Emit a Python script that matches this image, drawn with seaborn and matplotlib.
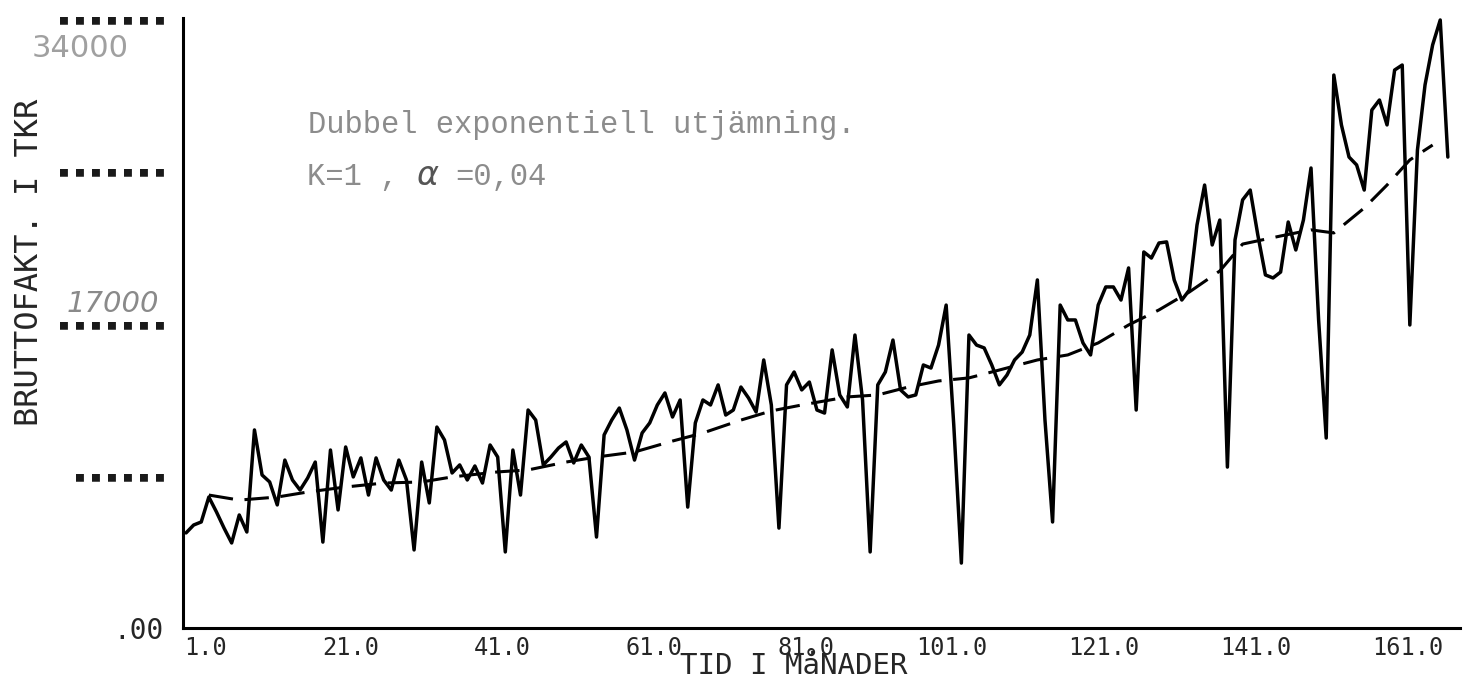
import numpy as np
import pandas as pd
import matplotlib
matplotlib.use("Agg")
import matplotlib.pyplot as plt
import seaborn as sns
from matplotlib.transforms import ScaledTranslation

# monthly gross invoicing (kr)
months = list(range(1, 168))
brutto = [5300, 5740, 5910, 7300, 6470, 5570, 4740, 6300, 5350, 11040,
          8530, 8140, 6860, 9360, 8250, 7690, 8360, 9250, 4790, 9920,
          6580, 10090, 8420, 9480, 7410, 9480, 8250, 7690, 9360, 8250,
          4350, 9250, 6970, 11200, 10480, 8640, 9090, 8250, 9030, 8080,
          10200, 9530, 4240, 9920, 7410, 12150, 11590, 9090, 9530, 10030,
          10370, 9200, 10200, 9530, 5070, 10760, 11590, 12260, 11040, 9360,
          10870, 11430, 12430, 13100, 11760, 12710, 6740, 11430, 12710, 12430,
          13550, 11870, 12150, 13430, 12820, 12040, 14940, 12430, 5570, 13550,
          14270, 13270, 13710, 12150, 11980, 15500, 12990, 12320, 16330, 12710,
          4240, 13550, 14270, 16050, 13270, 12880, 12990, 14660, 14490, 15770,
          18000, 11320, 3620, 16330, 15770, 15610, 14660, 13550, 14100, 14940,
          15380, 16330, 19400, 11590, 5910, 18000, 17170, 17170, 15890, 15220,
          18000, 19010, 19010, 18280, 20070, 12150, 20960, 20620, 21460, 21520,
          19400, 18280, 18840, 22460, 24690, 21350, 22740, 8970, 21630, 23860,
          24410, 21910, 19680, 19510, 19840, 22630, 21070, 22740, 25640, 17170,
          10590, 30820, 28040, 26250, 25810, 24410, 28870, 29430, 28040, 31100,
          31380, 16890, 26640, 30270, 32500, 33890, 26250]

# double exponential smoothing (dashed)
trend_months = [4, 8, 13, 17, 22, 27, 32, 36, 42, 46, 51, 55, 60, 65, 69, 74,
                78, 82, 88, 92, 96, 100, 104, 108, 113, 117, 121, 125, 129,
                133, 137, 140, 145, 149, 152, 156, 159, 162, 165]
trend = [7410, 7130, 7300, 7580, 7860, 8080, 8140, 8420, 8700, 8810, 9250,
         9530, 9810, 10420, 10870, 11590, 12100, 12430, 12880, 12990, 13430,
         13770, 13940, 14380, 14940, 15220, 15890, 16890, 17730, 18730, 19900,
         21400, 21850, 22190, 22020, 23410, 24690, 26090, 26920]

x_ticks = [1, 21, 41, 61, 81, 101, 121, 141, 161]
x_tick_labels = ["1.0", "21.0", "41.0", "61.0", "81.0", "101.0", "121.0", "141.0", "161.0"]
y_ticks = [0, 8500, 17000, 25500, 34000]
y_tick_labels = [".00", "■ ■ ■ ■ ■ ■", "■ ■ ■ ■ ■ ■ ■", "■ ■ ■ ■ ■ ■ ■", "■ ■ ■ ■ ■ ■ ■"]

sns.set_style("white")
plt.rcParams["font.family"] = ["DejaVu Sans Mono", "DejaVu Sans"]

W, H = 1466, 682
fig = plt.figure(figsize=(W / 100, H / 100), dpi=100)
ax = fig.add_axes([183 / W, 54 / H, 1277 / W, 610 / H])

df = pd.DataFrame({"Manad": months, "Brutto": brutto})
df_trend = pd.DataFrame({"Manad": trend_months, "Trend": trend})

sns.lineplot(data=df, x="Manad", y="Brutto", color="black", linewidth=2.5, ax=ax)
sns.lineplot(data=df_trend, x="Manad", y="Trend", color="black", linewidth=2.2, ax=ax)
ax.lines[-1].set_dashes([8, 3.8])

ax.set_xlim(0.6, 168.6)
ax.set_ylim(0, 34000)
ax.set_xlabel("")
ax.set_ylabel("")

for s in ["top", "right"]:
    ax.spines[s].set_visible(False)
for s in ["left", "bottom"]:
    ax.spines[s].set_linewidth(2.2)
    ax.spines[s].set_color("black")

ax.set_xticks(x_ticks, x_tick_labels)
ax.set_yticks(y_ticks, y_tick_labels)
ax.tick_params(axis="x", direction="out", length=6, width=1.8, pad=0, labelsize=17)
ax.tick_params(axis="y", direction="out", length=8, width=1.8, pad=6, labelsize=20)

# plotter puts the units digit at the tick
for lab in ax.get_xticklabels():
    txt = lab.get_text()
    n_int = len(txt.split(".")[0])
    lab.set_horizontalalignment("left")
    dx = -((n_int - 1) * 14.2 + 2) / 100
    lab.set_transform(lab.get_transform() + ScaledTranslation(dx, 0, fig.dpi_scale_trans))

# the asterisk rows are smaller than the ".00"
for lab in ax.get_yticklabels()[1:]:
    lab.set_fontsize(9.5)
    lab.set_color("#1a1a1a")


def px(x, y):
    return x / W, 1 - y / H


fig.text(*px(30, 262), "BRUTTOFAKT. I TKR", rotation=90, ha="center", va="center", fontsize=23)
fig.text(*px(794, 666), "TID I MåNADER", ha="center", va="center", fontsize=21)

# typed note
fig.text(*px(308, 133), "Dubbel exponentiell utjämning.", family="Liberation Mono",
         fontsize=22, color="#8c8c8c", va="baseline")
fig.text(*px(307, 185), "K=1 ,", family="Liberation Mono",
         fontsize=22, color="#8c8c8c", va="baseline")
fig.text(*px(455, 185), "=0,04", family="Liberation Mono",
         fontsize=22, color="#8c8c8c", va="baseline")
fig.text(*px(427, 185), "α", family="DejaVu Sans", fontsize=24, color="#555555",
         style="italic", ha="center", va="baseline")

# handwritten axis values
fig.text(*px(32, 57), "34000", family="DejaVu Sans", fontsize=22, color="#a0a0a0", va="baseline")
fig.text(*px(67, 312), "17000", family="DejaVu Sans", fontsize=21, color="#8a8a8a",
         style="italic", va="baseline")

fig.savefig("out.png", dpi=100)
